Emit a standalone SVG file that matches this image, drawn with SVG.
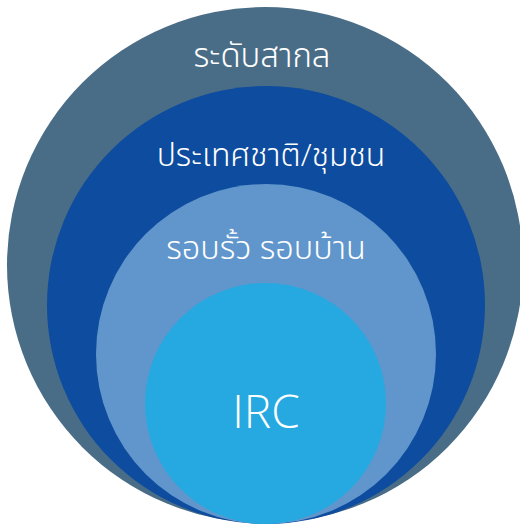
<svg xmlns="http://www.w3.org/2000/svg" width="520" height="525" viewBox="0 0 520 525">
<style>
.t{fill:#fff;font-family:"Open Sans","Noto Sans Thai","Noto Sans",sans-serif;font-weight:300;text-anchor:middle}
</style>
<rect width="520" height="525" fill="#fff"/>
<g id="global"><circle cx="265" cy="265" r="258" fill="#4a6d87"/><text class="t" x="262" y="67" font-size="33">ระดับสากล</text></g>
<g id="nation"><circle cx="266" cy="305" r="219" fill="#0d4c9e"/><text class="t" x="271" y="166" font-size="32">ประเทศชาติ/ชุมชน</text></g>
<g id="family"><circle cx="266" cy="354" r="170" fill="#6096cc"/><text class="t" x="266" y="259" font-size="32.5">รอบรั้ว รอบบ้าน</text></g>
<g id="irc"><circle cx="265.5" cy="403.5" r="120.5" fill="#25a9e0"/><text class="t" x="266" y="428" font-size="46">IRC</text></g>
<g id="connectors"/>
</svg>
